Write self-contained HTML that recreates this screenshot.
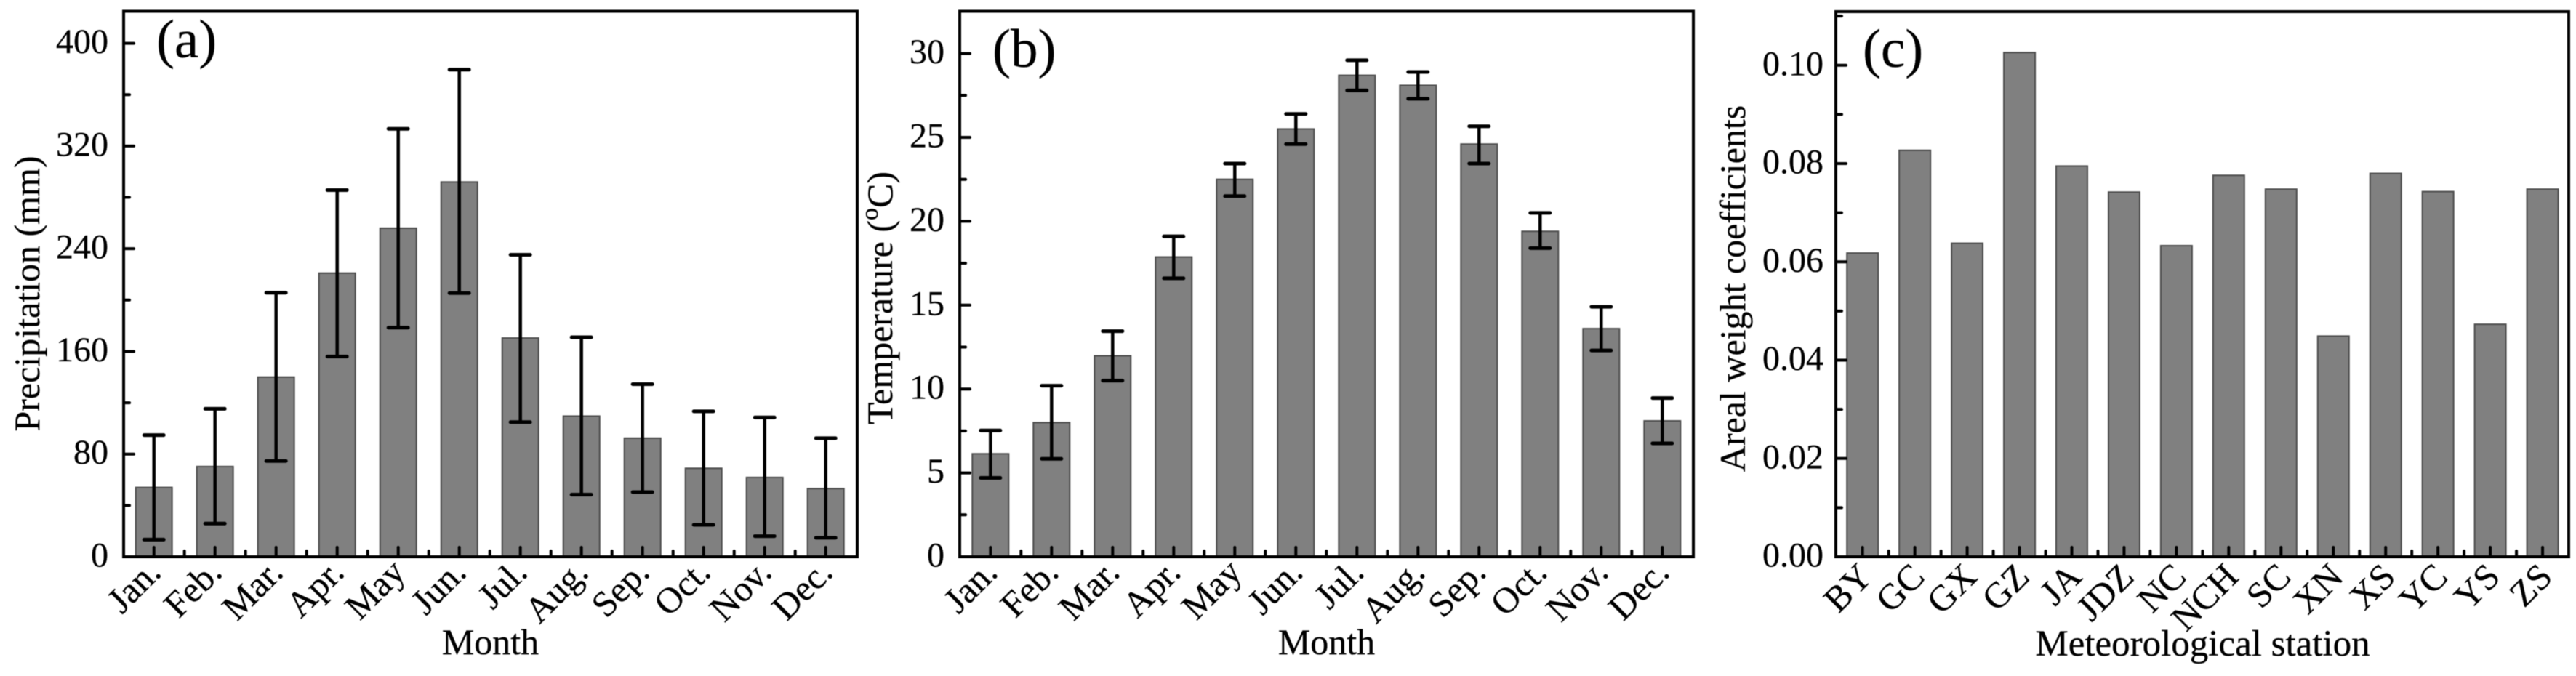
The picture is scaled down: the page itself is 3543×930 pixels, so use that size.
<!DOCTYPE html>
<html lang="en">
<head>
<meta charset="utf-8">
<title>Precipitation, temperature and areal weight coefficients</title>
<style>
html,body{margin:0;padding:0;background:#fff;}
svg{display:block;filter:blur(0.5px);}
text{font-family:"Liberation Serif",serif;fill:#000;stroke:#000;stroke-width:0.3px;}
.frame{fill:none;stroke:#000;stroke-width:4;}
.tick-label{font-size:48px;}
.x-label{font-size:50px;}
.axis-title{font-size:50px;}
.panel-label{font-size:75px;}
</style>
</head>
<body>
<svg id="figure" xmlns="http://www.w3.org/2000/svg" width="3543" height="930" viewBox="0 0 3543 930">
  <rect x="0" y="0" width="3543" height="930" fill="#fff"/>

  <g id="panel-a">
    <g id="a-marks"></g>
    <rect class="frame" x="170" y="15.5" width="1009" height="750.5"/>
    <g id="a-axes"></g>
    <text class="panel-label" x="215" y="79">(a)</text>
    <text class="axis-title" text-anchor="middle" transform="translate(54 404) rotate(-90)">Precipitation (mm)</text>
    <text class="axis-title" text-anchor="middle" x="674.5" y="900">Month</text>
  </g>

  <g id="panel-b">
    <g id="b-marks"></g>
    <rect class="frame" x="1320" y="15.5" width="1009" height="750.5"/>
    <g id="b-axes"></g>
    <text class="panel-label" x="1365" y="92">(b)</text>
    <text class="axis-title" text-anchor="middle" transform="translate(1227 410) rotate(-90)">Temperature (<tspan font-size="34" dy="-20">o</tspan><tspan dy="20">C)</tspan></text>
    <text class="axis-title" text-anchor="middle" x="1824.5" y="900">Month</text>
  </g>

  <g id="panel-c">
    <g id="c-marks"></g>
    <rect class="frame" x="2525" y="16" width="1008" height="750"/>
    <g id="c-axes"></g>
    <text class="panel-label" x="2562" y="92">(c)</text>
    <text class="axis-title" text-anchor="middle" transform="translate(2400 397) rotate(-90)">Areal weight coefficients</text>
    <text class="axis-title" text-anchor="middle" style="font-size:51px" x="3029.5" y="902">Meteorological station</text>
  </g>
</svg>

<script>
var monthLabels = ['Jan.','Feb.','Mar.','Apr.','May','Jun.','Jul.','Aug.','Sep.','Oct.','Nov.','Dec.'];

var precipValues = [54, 70.3, 140, 221, 256, 292, 170.4, 109.6, 92.4, 68.9, 61.8, 53.1];
var precipUpper = [94.8, 115.3, 205.7, 285.7, 333.4, 379.5, 235.3, 171, 134.5, 113.3, 108.6, 92.4];
var precipLower = [13.4, 25.9, 74.6, 156, 178.5, 205.4, 104.9, 48.4, 50.4, 24.9, 16.1, 14.8];
var precipMajorTicks = [0, 80, 160, 240, 320, 400];
var precipTickLabels = ['0', '80', '160', '240', '320', '400'];
var precipMinorTicks = [40, 120, 200, 280, 360];

var tempValues = [6.14, 8.0, 11.98, 17.87, 22.5, 25.5, 28.7, 28.1, 24.6, 19.4, 13.6, 8.1];
var tempUpper = [7.53, 10.2, 13.45, 19.1, 23.44, 26.4, 29.6, 28.9, 25.66, 20.5, 14.9, 9.46];
var tempLower = [4.7, 5.84, 10.5, 16.6, 21.5, 24.6, 27.8, 27.3, 23.44, 18.4, 12.3, 6.76];
var tempMajorTicks = [0, 5, 10, 15, 20, 25, 30];
var tempTickLabels = ['0', '5', '10', '15', '20', '25', '30'];
var tempMinorTicks = [2.5, 7.5, 12.5, 17.5, 22.5, 27.5];

var stationLabels = ['BY','GC','GX','GZ','JA','JDZ','NC','NCH','SC','XN','XS','YC','YS','ZS'];
var weightValues = [0.0618, 0.0827, 0.0638, 0.1026, 0.0795, 0.0742, 0.0633, 0.0776, 0.0748, 0.0449, 0.078, 0.0743, 0.0473, 0.0748];
var weightMajorTicks = [0, 0.02, 0.04, 0.06, 0.08, 0.10];
var weightTickLabels = ['0.00', '0.02', '0.04', '0.06', '0.08', '0.10'];
var weightMinorTicks = [0.01, 0.03, 0.05, 0.07, 0.09, 0.11];

var SVG_NS = 'http://www.w3.org/2000/svg';

function make(tag, geometry) {
  var el = document.createElementNS(SVG_NS, tag);
  for (var key in geometry) {
    el.setAttribute(key, geometry[key]);
  }
  return el;
}

function line(x1, y1, x2, y2, width, color, cap) {
  return make('line', {
    x1: x1, y1: y1, x2: x2, y2: y2,
    stroke: color, 'stroke-width': width, 'stroke-linecap': cap
  });
}

function drawPanel(spec) {
  var marks = document.getElementById(spec.id + '-marks');
  var axes = document.getElementById(spec.id + '-axes');
  var base = 766;

  function xAxis(i) { return spec.x0 + i * spec.step; }
  function yAxis(v) { return base - v * spec.yScale; }

  spec.categories.forEach(function (cat, i) {
    var x = xAxis(i);
    var y = yAxis(spec.values[i]);
    var bar = make('rect', {
      x: x - spec.barWidth / 2, y: y,
      width: spec.barWidth, height: base - y,
      fill: '#808080', stroke: '#4d4d4d', 'stroke-width': 2
    });
    
    
    marks.appendChild(bar);

    if (spec.upper) {
      var hi = yAxis(spec.upper[i]);
      var lo = yAxis(spec.lower[i]);
      var err = make('g', {});
      
      
      err.appendChild(line(x, hi, x, lo, 4.5, '#000', 'butt'));
      err.appendChild(line(x - 13.5, hi, x + 13.5, hi, 5, '#000', 'round'));
      err.appendChild(line(x - 13.5, lo, x + 13.5, lo, 5, '#000', 'round'));
      marks.appendChild(err);
    }

    var major = line(x, base, x, base - 13, 4, '#000', 'round');
    
    
    axes.appendChild(major);

    if (i < spec.categories.length - 1) {
      var mx = x + spec.step / 2;
      var minor = line(mx, base, mx, base - 8, 4, '#000', 'round');
      
      
      axes.appendChild(minor);
    }

    var label = make('text', {
      'class': 'x-label',
      'text-anchor': 'end',
      transform: 'translate(' + (x + spec.labelDx) + ' ' + spec.labelY + ') rotate(-45)'
    });
    
    
    label.textContent = cat;
    axes.appendChild(label);
  });

  spec.majorTicks.forEach(function (v, i) {
    var y = yAxis(v);
    if (v !== 0) {
      var tick = line(spec.left, y, spec.left + 14, y, 4, '#000', 'round');
      
      
      axes.appendChild(tick);
    }
    var text = make('text', {
      'class': 'tick-label', 'text-anchor': 'end',
      x: spec.left - spec.labelGap, y: y + 13.5
    });
    
    
    text.textContent = spec.tickLabels[i];
    axes.appendChild(text);
  });

  spec.minorTicks.forEach(function (v) {
    var y = yAxis(v);
    var tick = line(spec.left, y, spec.left + 8, y, 4, '#000', 'round');
    
    
    axes.appendChild(tick);
  });
}

drawPanel({
  id: 'a', left: 170, x0: 211.7, step: 84, barWidth: 50, yScale: 1.766,
  labelDx: 12, labelY: 790, labelGap: 21,
  categories: monthLabels, values: precipValues, upper: precipUpper, lower: precipLower,
  majorTicks: precipMajorTicks, tickLabels: precipTickLabels, minorTicks: precipMinorTicks
});

drawPanel({
  id: 'b', left: 1320, x0: 1362.3, step: 84, barWidth: 50, yScale: 23.08,
  labelDx: 12, labelY: 790, labelGap: 21,
  categories: monthLabels, values: tempValues, upper: tempUpper, lower: tempLower,
  majorTicks: tempMajorTicks, tickLabels: tempTickLabels, minorTicks: tempMinorTicks
});

drawPanel({
  id: 'c', left: 2525, x0: 2561.7, step: 71.95, barWidth: 43, yScale: 6762,
  labelDx: 16, labelY: 796, labelGap: 17,
  categories: stationLabels, values: weightValues,
  majorTicks: weightMajorTicks, tickLabels: weightTickLabels, minorTicks: weightMinorTicks
});
</script>
</body>
</html>
